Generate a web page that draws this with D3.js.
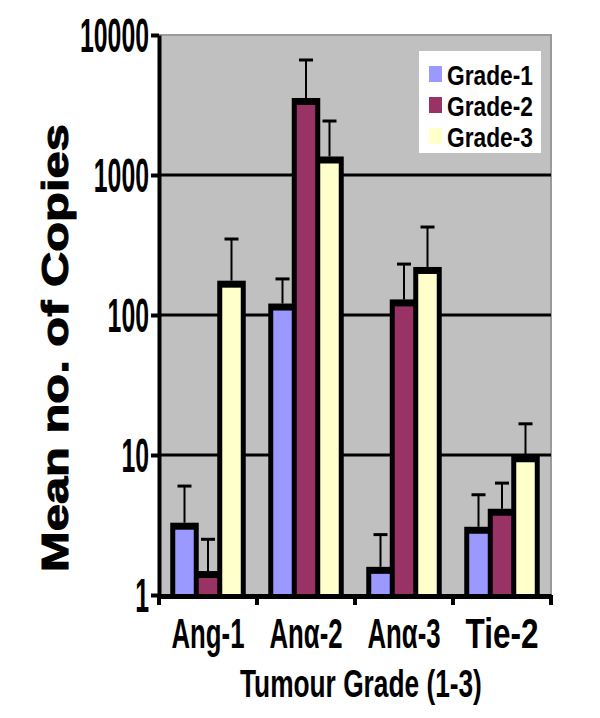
<!DOCTYPE html>
<html><head><meta charset="utf-8">
<script src="https://cdn.jsdelivr.net/npm/d3@7"></script>
<style>body{margin:0;background:#fff}svg{display:block}text{font-family:"Liberation Sans",Arial,sans-serif;font-weight:bold;fill:#000}</style>
</head><body>
<svg id="c" width="600" height="718"></svg>
<script>
const categories = ["Ang-1", "Anα-2", "Anα-3", "Tie-2"];
const grades = ["Grade-1", "Grade-2", "Grade-3"];
const grade1 = [3.1, 114, 1.5, 2.9];
const grade2 = [1.4, 3350, 122, 3.9];
const grade3 = [166, 1280, 208, 9.4];
const err1 = [2.9, 67, 1.2, 2.3];
const err2 = [1.1, 3280, 109, 2.4];
const err3 = [183, 1150, 217, 7.3];
const yTicks = [1, 10, 100, 1000, 10000];
const yTickLabels = ["1", "10", "100", "1000", "10000"];
const colors = ["#9999ff", "#993366", "#ffffcc"];
const yTitle = "Mean no. of Copies";
const xTitle = "Tumour Grade (1-3)";

const values = [grade1, grade2, grade3];
const errs = [err1, err2, err3];

const svg = d3.select("#c");
const L = 159, R = 551, T = 35, B = 595;

// draws a text squeezed/stretched horizontally to a target width via transform
function fitText(parent, str, px, py, size, width, anchor, rot) {
  const g = parent.append("g");
  const t = g.append("text").attr("font-size", size).text(str);
  const w = t.node().getComputedTextLength();
  const s = width / w;
  const off = anchor === "middle" ? -w / 2 : anchor === "end" ? -w : 0;
  t.attr("x", off);
  g.attr("transform", `translate(${px},${py})` + (rot ? ` rotate(${rot})` : "") + ` scale(${s},1)`);
  return t;
}

const x = d3.scaleBand().domain(categories).range([L, R]).paddingInner(0).paddingOuter(0);
const xs = d3.scaleBand().domain(grades).range([0, x.bandwidth()]).paddingInner(0).paddingOuter(0.585);
const y = d3.scaleLog().domain([1, 10000]).range([B, T]);

// plot background
svg.append("rect").attr("x", L).attr("y", T).attr("width", R - L).attr("height", B - T)
  .attr("fill", "#c0c0c0").attr("stroke", "#9a9a9a").attr("stroke-width", 2);

// gridlines
svg.append("g").selectAll("line").data(yTicks.filter(t => t > 1 && t < 10000)).join("line")
  .attr("x1", L).attr("x2", R).attr("y1", d => y(d)).attr("y2", d => y(d))
  .attr("stroke", "#000").attr("stroke-width", 3);

// bars
const rows = [];
categories.forEach((c, i) => grades.forEach((g, j) => rows.push({c, g, j, v: values[j][i], e: errs[j][i]})));

const bars = svg.append("g");
bars.selectAll("rect.o").data(rows).join("rect").attr("class", "o")
  .attr("x", d => x(d.c) + xs(d.g) - 2.5)
  .attr("width", xs.bandwidth() + 5)
  .attr("y", d => y(d.v) - 3.5)
  .attr("height", d => B - y(d.v) + 3.5)
  .attr("fill", "#000");
bars.selectAll("rect.i").data(rows).join("rect").attr("class", "i")
  .attr("x", d => x(d.c) + xs(d.g) + 2.5)
  .attr("width", xs.bandwidth() - 5)
  .attr("y", d => y(d.v) + 3.5)
  .attr("height", d => Math.max(0, B - y(d.v) - 3.5))
  .attr("fill", d => colors[d.j]);

// error bars
const eb = svg.append("g").attr("stroke", "#000");
eb.selectAll("line.v").data(rows).join("line").attr("class", "v")
  .attr("x1", d => x(d.c) + xs(d.g) + xs.bandwidth() / 2)
  .attr("x2", d => x(d.c) + xs(d.g) + xs.bandwidth() / 2)
  .attr("y1", d => y(d.v) - 3.5).attr("y2", d => y(d.v + d.e))
  .attr("stroke-width", 2);
eb.selectAll("line.h").data(rows).join("line").attr("class", "h")
  .attr("x1", d => x(d.c) + xs(d.g) + xs.bandwidth() / 2 - 7)
  .attr("x2", d => x(d.c) + xs(d.g) + xs.bandwidth() / 2 + 7)
  .attr("y1", d => y(d.v + d.e)).attr("y2", d => y(d.v + d.e))
  .attr("stroke-width", 3);

// y axis
const ya = svg.append("g").attr("transform", `translate(${L},0)`)
  .call(d3.axisLeft(y).tickValues(yTicks).tickFormat(() => "").tickSize(8).tickSizeOuter(0));
ya.select(".domain").attr("stroke", "#000").attr("stroke-width", 4);
ya.selectAll(".tick line").attr("stroke", "#000").attr("stroke-width", 4);
ya.selectAll(".tick text").remove();
const yl = svg.append("g");
yTicks.forEach((t, i) => fitText(yl, yTickLabels[i], 149, y(t) + 17, 48, yTickLabels[i].length * 13.8, "end"));

// x axis
const xa = svg.append("g").attr("transform", `translate(0,${B + 1})`)
  .call(d3.axisBottom(x).tickSize(0).tickFormat(""));
xa.select(".domain").attr("stroke", "#000").attr("stroke-width", 5);
xa.selectAll(".tick").remove();
const bounds = categories.map(c => x(c)).concat([R]);
svg.append("g").selectAll("line").data(bounds).join("line")
  .attr("x1", d => d).attr("x2", d => d).attr("y1", B).attr("y2", B + 10)
  .attr("stroke", "#000").attr("stroke-width", 4);

const xl = svg.append("g");
categories.forEach(c => fitText(xl, c, x(c) + x.bandwidth() / 2, 648, 43, 73, "middle"));

fitText(svg, xTitle, 361, 697, 38, 242, "middle");

const yt = fitText(svg, yTitle, 68, 348, 36, 448, "middle", -90);
yt.attr("stroke", "#000").attr("stroke-width", 1);

// legend
const lg = svg.append("g");
lg.append("rect").attr("x", 419).attr("y", 51).attr("width", 122).attr("height", 102).attr("fill", "#fff");
const legY = [85, 116, 147];
lg.selectAll("rect.s").data(grades).join("rect").attr("class", "s")
  .attr("x", 429).attr("y", (d, i) => legY[i] - 19).attr("width", 13).attr("height", 16)
  .attr("fill", (d, i) => colors[i]);
grades.forEach((g, i) => fitText(lg, g, 447, legY[i], 27, 86, "start"));
</script>
</body></html>
